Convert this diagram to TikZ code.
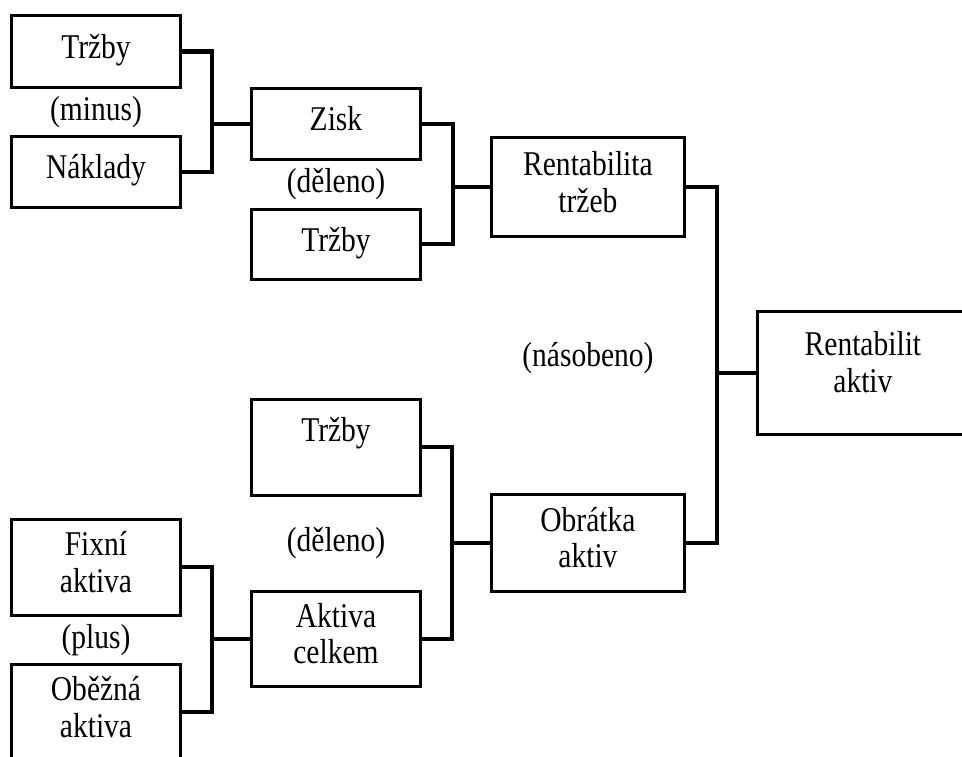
\documentclass[tikz,border=0pt]{standalone}
\usepackage{fontspec}
\setmainfont{Liberation Serif}[FakeStretch=0.85]
\usetikzlibrary{positioning, calc}

\begin{document}
\begin{tikzpicture}[
    box/.style={rectangle, draw, line width=2.4pt, minimum width=4.215cm, align=center, inner sep=0pt, font=\fontsize{24.7}{26}\selectfont},
    wide/.style={box, minimum width=4.815cm},
    oneline/.style={text height=17pt, text depth=7.5pt},
    twoline/.style={text depth=7.5pt},
    op/.style={font=\fontsize{24.7}{26}\selectfont, inner sep=0pt},
    conn/.style={line width=2.9pt}
]

\useasboundingbox (-2.4,1.2875) rectangle (21.65,-17.6125);
\clip (-2.4,1.2875) rectangle (21.65,-17.6125);

% Zisk
\node[box, oneline, minimum height=1.79cm] (trz1) {Tržby};
\node[box, oneline, minimum height=1.765cm, below=1.15cm of trz1] (nakl) {Náklady};
\node[box, oneline, minimum height=1.765cm, below right=-0.05cm and 1.7cm of trz1] (zisk) {Zisk};
\node[box, oneline, minimum height=1.74cm, below=1.175cm of zisk] (trz2) {Tržby};

% Rentabilita
\node[wide, twoline, minimum height=2.465cm, below right=-0.625cm and 1.7cm of zisk] (rtrz) {Rentabilita\\tržeb};
\node[box, minimum width=5.265cm, minimum height=3.065cm, text depth=16pt, below right=1.8cm and 1.75cm of rtrz] (rakt) {Rentabilit\\aktiv};

% Obratka aktiv
\node[box, oneline, text depth=24.8pt, minimum height=2.39cm, below=2.925cm of trz2] (trz3) {Tržby};
\node[box, twoline, minimum height=2.365cm, below=2.325cm of trz3] (akc) {Aktiva\\celkem};
\node[wide, twoline, minimum height=2.415cm, below right=-0.1cm and 1.7cm of trz3] (obr) {Obrátka\\aktiv};
\node[box, twoline, minimum height=2.39cm, below left=0.525cm and 1.7cm of trz3] (fix) {Fixní\\aktiva};
\node[box, twoline, minimum height=2.39cm, below=1.15cm of fix] (obez) {Oběžná\\aktiva};

% Operations
\node[op] (minus) at ($(trz1.south)!0.5!(nakl.north)$) {(minus)};
\node[op] (del1) at ($(zisk.south)!0.5!(trz2.north)$) {(děleno)};
\node[op] (nas) at ($(rtrz.south)!0.47!(obr.north)$) {(násobeno)};
\node[op] (del2) at ($(trz3.south)!0.5!(akc.north)$) {(děleno)};
\node[op] (plus) at ($(fix.south)!0.5!(obez.north)$) {(plus)};

% Connections
\draw[conn] (trz1.east) -- ++(0.75,0) coordinate (j1) |- (nakl.east);
\draw[conn] (j1 |- zisk.west) -- (zisk.west);
\draw[conn] (zisk.east) -- ++(0.775,0) coordinate (j2) |- (trz2.east);
\draw[conn] (j2 |- rtrz.west) -- (rtrz.west);
\draw[conn] (rtrz.east) -- ++(0.775,0) coordinate (j3) |- (obr.east);
\draw[conn] (j3 |- rakt.west) -- (rakt.west);
\draw[conn] (trz3.east) -- ++(0.75,0) coordinate (j4) |- (akc.east);
\draw[conn] (j4 |- obr.west) -- (obr.west);
\draw[conn] (fix.east) -- ++(0.75,0) coordinate (j5) |- (obez.east);
\draw[conn] (j5 |- akc.west) -- (akc.west);

\end{tikzpicture}
\end{document}
